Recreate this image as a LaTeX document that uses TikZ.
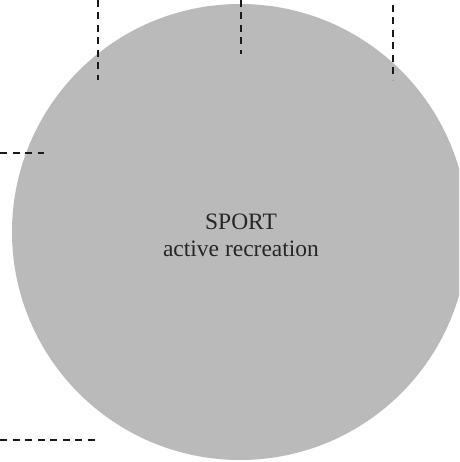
\documentclass[tikz,border=0pt]{standalone}
\usepackage{fontspec}
\setmainfont{Liberation Serif}
\usepackage{tikz}
\usetikzlibrary{calc}

\begin{document}
\begin{tikzpicture}[x=1pt,y=-1pt]
\def\W{459};\def\H{462};
\tikzset{guide/.style={draw=black!90, line width=2.7pt, dash pattern=on 7pt off 5.5pt}}
\useasboundingbox (0,0) rectangle (\W,\H);
\clip (0,0) rectangle (\W,\H);
\coordinate (c) at (240,232);
\fill[color=black!27] (c) circle (228);
\node[align=center, text=black!85, font=\fontsize{23.5}{27}\selectfont] (sport) at (241,235) {SPORT\\active recreation};
% guides from the top
\coordinate (t1) at (98,0);  \draw[guide] (t1)--++(0,80);
\coordinate (t2) at (241,0); \draw[guide] (t2)--++(0,54);
\coordinate (t3) at (393,5); \draw[guide] (t3)--++(0,75);
% guides from the left
\coordinate (l1) at (0,153); \draw[guide] (l1)--++(44,0);
\coordinate (l2) at (0,440); \draw[guide] (l2)--++(99,0);
\end{tikzpicture}
\end{document}
